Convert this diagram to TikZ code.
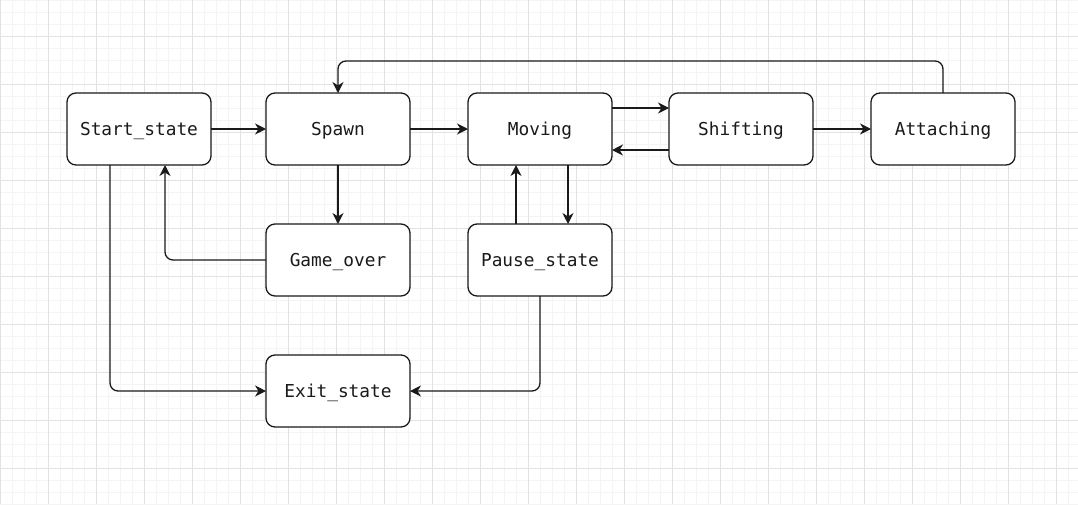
\documentclass[tikz,border=0pt]{standalone}
\usepackage{fontspec}
\newfontfamily\boxmono{DejaVu Sans Mono}
\usetikzlibrary{arrows.meta}
\definecolor{gridminor}{HTML}{F4F4F4}
\definecolor{gridmajor}{HTML}{E2E2E2}
\definecolor{ink}{HTML}{1A1A1A}
\tikzset{
  statebox/.style={draw=ink, line width=1.3pt, fill=white, rounded corners=9pt,
    minimum width=144pt, minimum height=72pt, inner sep=0pt, outer sep=0pt,
    text height=15pt, text depth=3pt,
    font=\boxmono\fontsize{17.8}{20}\selectfont, text=ink},
  arr/.style={draw=ink, line width=1.3pt, rounded corners=8pt,
    -{Stealth[length=11pt,width=11pt,inset=3.5pt]}},
}
\begin{document}
\begin{tikzpicture}[x=1pt,y=-1pt]
\useasboundingbox (0,0) rectangle (1078,504);
\fill[white] (0,0) rectangle (1078,504);
% grid
\foreach \gx in {0,12,...,1078} {\draw[gridminor, line width=0.7pt] (\gx,0) -- (\gx,504);}
\foreach \gy in {0,12,...,504} {\draw[gridminor, line width=0.7pt] (0,\gy) -- (1078,\gy);}
\foreach \gx in {0,48,...,1078} {\draw[gridmajor, line width=0.9pt] (\gx,0) -- (\gx,504);}
\foreach \gy in {36,84,...,504} {\draw[gridmajor, line width=0.9pt] (0,\gy) -- (1078,\gy);}
% nodes
\node[statebox] (start) at (139,129) {Start\_state};
\node[statebox] (spawn) at (338,129) {Spawn};
\node[statebox] (moving) at (540,129) {Moving};
\node[statebox] (shifting) at (741,129) {Shifting};
\node[statebox] (attaching) at (943,129) {Attaching};
\node[statebox] (gameover) at (338,260) {Game\_over};
\node[statebox] (pause) at (540,260) {Pause\_state};
\node[statebox] (exit) at (338,391) {Exit\_state};
% edges
\draw[arr] (start) -- (spawn);
\draw[arr] (spawn) -- (moving);
\draw[arr] ([yshift=21pt]moving.east) -- ([yshift=21pt]shifting.west);
\draw[arr] ([yshift=-21pt]shifting.west) -- ([yshift=-21pt]moving.east);
\draw[arr] (shifting) -- (attaching);
\draw[arr] (attaching.north) -- ++(0,-32) -| (spawn.north);
\draw[arr] (spawn) -- (gameover);
\draw[arr] (gameover.west) -| ([xshift=26pt]start.south);
\draw[arr] ([xshift=-29pt]start.south) |- (exit.west);
\draw[arr] ([xshift=28pt]moving.south) -- ([xshift=28pt]pause.north);
\draw[arr] ([xshift=-24pt]pause.north) -- ([xshift=-24pt]moving.south);
\draw[arr] (pause.south) |- (exit.east);
\end{tikzpicture}
\end{document}
